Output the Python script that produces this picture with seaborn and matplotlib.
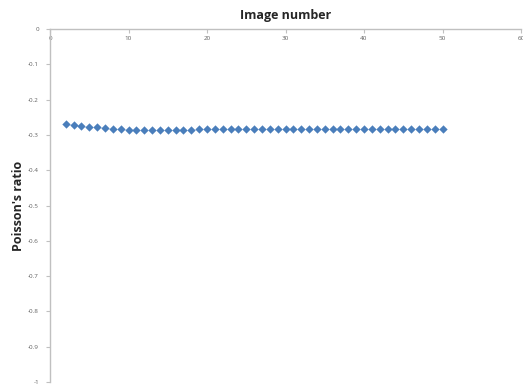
import matplotlib
matplotlib.use("Agg")
import matplotlib.pyplot as plt
import seaborn as sns
import pandas as pd
from matplotlib.ticker import FuncFormatter, MultipleLocator

image_number = list(range(2, 51))
poisson_ratio = [
    -0.270, -0.273, -0.275, -0.277, -0.279, -0.281, -0.282, -0.284, -0.285, -0.286,
    -0.287, -0.287, -0.286, -0.286, -0.286, -0.285, -0.285, -0.284, -0.284, -0.284,
    -0.284, -0.283, -0.283, -0.283, -0.283, -0.283, -0.283, -0.283, -0.283, -0.283,
    -0.283, -0.283, -0.283, -0.283, -0.283, -0.283, -0.283, -0.283, -0.282, -0.282,
    -0.282, -0.282, -0.282, -0.282, -0.282, -0.282, -0.282, -0.282, -0.282,
]

df = pd.DataFrame({"Image number": image_number, "Poisson's ratio": poisson_ratio})

sns.set_style("white")
plt.rcParams["font.family"] = ["Open Sans", "DejaVu Sans"]

fig = plt.figure(figsize=(5.23, 3.88), dpi=100)
ax = fig.add_axes([50 / 523, 6 / 388, 471 / 523, 353 / 388])

sns.scatterplot(data=df, x="Image number", y="Poisson's ratio", ax=ax,
                marker="D", s=18, color="#4a7ebb", edgecolor="#4a7ebb", linewidth=0)

ax.set_xlim(0, 60)
ax.set_ylim(-1, 0)
ax.xaxis.set_major_locator(MultipleLocator(10))
ax.yaxis.set_major_locator(MultipleLocator(0.1))

def fmt_y(v, _):
    v = round(v, 1)
    if v == 0:
        return "0"
    if v == -1:
        return "-1"
    return f"{v:.1f}"

ax.yaxis.set_major_formatter(FuncFormatter(fmt_y))

for side in ("bottom", "right"):
    ax.spines[side].set_visible(False)
for side in ("top", "left"):
    ax.spines[side].set_color("#c0c0c0")
    ax.spines[side].set_linewidth(1.0)

ax.tick_params(axis="x", top=True, bottom=False, labeltop=True, labelbottom=False,
               direction="in", length=3, color="#c0c0c0", pad=-9,
               labelsize=4.5, labelcolor="#606060")
ax.tick_params(axis="y", left=True, direction="out", length=3, color="#c0c0c0",
               pad=5, labelsize=4.5, labelcolor="#606060")

ax.xaxis.set_label_position("top")
ax.set_xlabel("Image number", fontsize=9, fontweight="bold", labelpad=7)
ax.set_ylabel("Poisson's ratio", fontsize=9, fontweight="bold")
ax.yaxis.set_label_coords(-25 / 471, 0.5)

fig.savefig("out.png", dpi=100)
